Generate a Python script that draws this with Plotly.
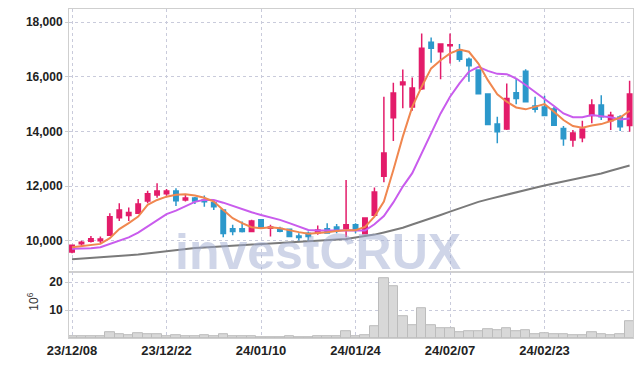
import plotly.graph_objects as go

dates = ["23/12/08","23/12/11","23/12/12","23/12/13","23/12/14","23/12/15","23/12/18","23/12/19","23/12/20","23/12/21",
         "23/12/22","23/12/26","23/12/27","23/12/28","24/01/02","24/01/03","24/01/04","24/01/05","24/01/08","24/01/09",
         "24/01/10","24/01/11","24/01/12","24/01/15","24/01/16","24/01/17","24/01/18","24/01/19","24/01/22","24/01/23",
         "24/01/24","24/01/25","24/01/26","24/01/29","24/01/30","24/01/31","24/02/01","24/02/02","24/02/05","24/02/06",
         "24/02/07","24/02/08","24/02/13","24/02/14","24/02/15","24/02/16","24/02/19","24/02/20","24/02/21","24/02/22",
         "24/02/23","24/02/26","24/02/27","24/02/28","24/02/29","24/03/04","24/03/05","24/03/06","24/03/07","24/03/08"]

open_ = [9580,9880,9980,9990,10200,10840,10920,11000,11450,11670,
         11720,11820,11490,11560,11490,11390,11120,10430,10430,10330,
         10760,10450,10440,10420,10170,10270,10280,10430,10500,10430,
         10580,10250,10930,12360,14500,15710,14900,15560,17270,16920,
         17140,16980,16650,16250,15370,14270,14090,15420,16210,14930,
         14900,14820,14110,13690,13770,14580,14970,14390,14530,14220]
high = [9850,9990,10170,10150,11000,11370,11210,11520,11830,12100,
        11890,11920,11670,11600,11650,11460,11150,10580,10700,10760,
        10760,10580,10510,10440,10270,10330,10550,10640,10610,12220,
        10640,10860,11950,15270,15780,16270,15980,17590,17440,17200,
        17590,17200,16710,16250,15370,14540,15760,15940,16280,15270,
        15310,14900,14200,14050,14390,15180,15330,14720,14590,15860]
low = [9540,9810,9930,9900,10170,10720,10720,10980,11370,11570,
       11640,11270,11430,11340,11240,11120,10120,10200,10300,10320,
       10450,10150,10310,10120,10000,9960,10210,10250,10270,10120,
       10270,10220,10880,12140,13650,14850,14760,15520,16520,15910,
       16490,16550,15820,15380,14250,13570,14050,15000,15090,14690,
       14580,14230,13480,13440,13600,14300,14420,14050,14020,13990]
close = [9830,9940,10070,10060,10870,11120,11030,11340,11720,11820,
         11820,11460,11560,11450,11420,11240,10260,10330,10330,10720,
         10480,10500,10340,10150,10110,10150,10390,10280,10360,10580,
         10420,10830,11780,13210,15410,15810,15590,17050,17050,17200,
         17180,16650,16410,15380,14250,13990,15210,15210,15090,14810,
         14580,14230,13730,13940,14090,14970,14540,14590,14170,15370]

ma5 = [9760,9800,9830,9880,10090,10420,10640,10880,11310,11490,
       11610,11680,11700,11650,11570,11430,11120,10820,10640,10490,
       10450,10490,10450,10370,10310,10250,10270,10310,10350,10380,
       10380,10500,10880,11430,12590,13810,14900,15640,16310,16610,
       16860,17000,16920,16490,15880,15360,15090,14880,14810,14900,
       15000,14720,14420,14200,14140,14220,14270,14380,14510,14760]
ma10 = [9700,9710,9720,9760,9880,10000,10120,10290,10510,10760,
        10970,11100,11270,11420,11500,11490,11390,11270,11150,11040,
        10940,10860,10760,10640,10510,10390,10370,10370,10380,10370,
        10370,10370,10600,10900,11400,11980,12470,13200,13930,14660,
        15270,15760,16190,16370,16220,16110,16100,15940,15700,15450,
        15190,14930,14660,14520,14520,14600,14560,14520,14440,14470]
ma_long = [9320,9340,9360,9380,9400,9430,9460,9490,9530,9575,
           9620,9660,9700,9730,9750,9770,9790,9810,9830,9855,
           9880,9895,9910,9925,9945,9965,9985,10000,10026,10060,
           10110,10160,10220,10300,10390,10470,10590,10700,10820,10940,
           11060,11180,11320,11420,11510,11600,11690,11770,11850,11940,
           12020,12090,12160,12230,12300,12380,12460,12560,12650,12750]
volume = [0.5,0.5,0.5,0.5,2.1,1.4,1.1,1.8,1.4,1.4,
          0.5,1.0,0.6,0.6,1.0,0.6,1.4,0.6,0.6,0.6,
          0.2,0.2,0.2,0.5,0.2,0.2,0.5,0.5,0.6,2.4,
          0.7,0.95,4.2,21.4,18.5,7.7,4.5,10.7,4.5,3.5,
          3.5,2.1,2.4,2.4,3.1,2.7,3.5,2.5,2.7,1.4,
          1.7,1.3,1.3,0.95,0.95,2.0,1.4,1.1,1.4,6.0]

tick_dates = ["23/12/08","23/12/22","24/01/10","24/01/24","24/02/07","24/02/23"]
price_ticks = [10000, 12000, 14000, 16000, 18000]
price_ticktext = ["10,000", "12,000", "14,000", "16,000", "18,000"]
vol_ticks = [10, 20]

UP = "#e31c6a"
DOWN = "#2c98cb"
GRID = "#c9cbdb"
AXLINE = "#cfcfcf"
TICKFONT = dict(family="Liberation Sans, Arial, sans-serif", size=12, color="#222222", weight="bold")

fig = go.Figure()

fig.add_trace(go.Scatter(x=dates, y=ma_long, mode="lines", xaxis="x", yaxis="y",
                         line=dict(color="#7a7a7a", width=2), hoverinfo="skip", showlegend=False))
fig.add_trace(go.Candlestick(x=dates, open=open_, high=high, low=low, close=close,
                             xaxis="x", yaxis="y",
                             increasing=dict(line=dict(color=UP, width=1.5), fillcolor=UP),
                             decreasing=dict(line=dict(color=DOWN, width=1.5), fillcolor=DOWN),
                             whiskerwidth=0, showlegend=False))
fig.add_trace(go.Scatter(x=dates, y=ma10, mode="lines", xaxis="x", yaxis="y",
                         line=dict(color="#c95ced", width=2), hoverinfo="skip", showlegend=False))
fig.add_trace(go.Scatter(x=dates, y=ma5, mode="lines", xaxis="x", yaxis="y",
                         line=dict(color="#f0874f", width=2), hoverinfo="skip", showlegend=False))

fig.add_trace(go.Bar(x=dates, y=volume, xaxis="x2", yaxis="y2",
                     marker=dict(color="#d8d8d8", line=dict(color="#bcbcbc", width=1)),
                     showlegend=False))

common_x = dict(type="category", range=[-0.32, 59.36], tickmode="array", tickvals=tick_dates,
                ticktext=tick_dates, showgrid=True, gridcolor=GRID, griddash="dot", gridwidth=1,
                showline=True, linecolor=AXLINE, mirror=True, zeroline=False, ticks="")

# the page body adds an 8px offset, so the figure is sized to land on the reference pixels
fig.update_layout(
    width=634, height=358,
    margin=dict(l=61, r=9, t=1, b=28),
    paper_bgcolor="white", plot_bgcolor="white",
    bargap=0, boxgap=0.33,
    xaxis=dict(common_x, domain=[0, 1], anchor="y", showticklabels=False,
               rangeslider=dict(visible=False)),
    xaxis2=dict(common_x, domain=[0, 1], anchor="y2", matches="x", showticklabels=True,
                tickfont=dict(TICKFONT, size=13)),
    yaxis=dict(domain=[0.2, 1], range=[8842, 18487], tickmode="array", tickvals=price_ticks,
               ticktext=price_ticktext, showgrid=True, gridcolor=GRID, griddash="dot",
               showline=True, linecolor=AXLINE, mirror=True, zeroline=False,
               ticks="outside", ticklen=3, tickcolor=AXLINE, tickfont=TICKFONT),
    yaxis2=dict(domain=[0, 0.2], range=[0, 23.6], tickmode="array", tickvals=vol_ticks,
                showgrid=True, gridcolor=GRID, griddash="dot",
                showline=True, linecolor=AXLINE, mirror=True, zeroline=False,
                ticks="outside", ticklen=3, tickcolor=AXLINE, tickfont=TICKFONT),
    annotations=[
        dict(text="investCRUX", xref="paper", yref="paper", x=0.442, y=0.261,
             xanchor="center", yanchor="middle", showarrow=False,
             font=dict(family="Liberation Sans, Arial, sans-serif", size=50, weight="bold",
                       color="rgba(160,172,210,0.5)")),
        dict(text="10<sup>6</sup>", xref="paper", yref="paper", x=-0.064, y=0.11,
             xanchor="center", yanchor="middle", showarrow=False, textangle=-90,
             font=dict(family="Liberation Sans, Arial, sans-serif", size=12, color="#333333")),
    ],
)

fig.write_html("out.html")
